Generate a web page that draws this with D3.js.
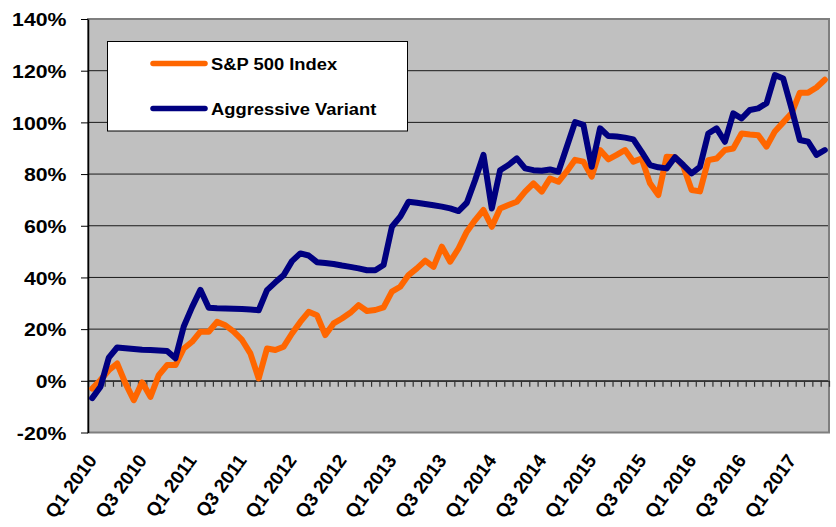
<!DOCTYPE html>
<html>
<head>
<meta charset="utf-8">
<script src="https://cdn.jsdelivr.net/npm/d3@7"></script>
<style>
  html, body { margin: 0; padding: 0; background: #ffffff; }
  svg { display: block; font-family: "Liberation Sans", Arial, sans-serif; }
</style>
</head>
<body>
<svg id="chart" width="836" height="527"></svg>
<script>
// ---- data (monthly, Jan 2010 .. May 2017), cumulative return in % ----
const months = [
  "Jan 2010","Feb 2010","Mar 2010","Apr 2010","May 2010","Jun 2010","Jul 2010","Aug 2010","Sep 2010","Oct 2010","Nov 2010","Dec 2010",
  "Jan 2011","Feb 2011","Mar 2011","Apr 2011","May 2011","Jun 2011","Jul 2011","Aug 2011","Sep 2011","Oct 2011","Nov 2011","Dec 2011",
  "Jan 2012","Feb 2012","Mar 2012","Apr 2012","May 2012","Jun 2012","Jul 2012","Aug 2012","Sep 2012","Oct 2012","Nov 2012","Dec 2012",
  "Jan 2013","Feb 2013","Mar 2013","Apr 2013","May 2013","Jun 2013","Jul 2013","Aug 2013","Sep 2013","Oct 2013","Nov 2013","Dec 2013",
  "Jan 2014","Feb 2014","Mar 2014","Apr 2014","May 2014","Jun 2014","Jul 2014","Aug 2014","Sep 2014","Oct 2014","Nov 2014","Dec 2014",
  "Jan 2015","Feb 2015","Mar 2015","Apr 2015","May 2015","Jun 2015","Jul 2015","Aug 2015","Sep 2015","Oct 2015","Nov 2015","Dec 2015",
  "Jan 2016","Feb 2016","Mar 2016","Apr 2016","May 2016","Jun 2016","Jul 2016","Aug 2016","Sep 2016","Oct 2016","Nov 2016","Dec 2016",
  "Jan 2017","Feb 2017","Mar 2017","Apr 2017","May 2017"
];

const sp500 = [
  -3.0, 0.3, 4.1, 6.7, -1.0, -7.5, -0.6, -6.2, 2.2, 6.1, 6.1, 12.5,
  15.1, 19.0, 19.0, 22.8, 21.5, 19.0, 15.8, 10.6, 0.9, 12.5, 11.9, 13.2,
  18.3, 22.8, 26.7, 25.4, 17.7, 22.2, 24.1, 26.3, 29.3, 27.0, 27.4, 28.4,
  34.5, 36.4, 40.9, 43.5, 46.5, 44.1, 51.9, 46.1, 51.2, 57.7, 62.2, 66.1,
  59.6, 66.7, 68.0, 69.3, 73.2, 76.4, 73.2, 78.3, 77.0, 81.0, 85.5, 84.8,
  79.0, 89.3, 85.7, 87.4, 89.3, 84.8, 86.0, 76.4, 71.9, 86.7, 86.5, 83.0,
  73.8, 73.3, 85.4, 86.0, 89.3, 89.9, 95.7, 95.3, 95.0, 90.6, 96.5, 100.0,
  103.5, 111.5, 111.5, 113.5, 116.5
];

const aggressive = [
  -6.7, -2.3, 9.0, 12.9, 12.6, 12.3, 12.0, 11.9, 11.7, 11.5, 8.7, 21.0,
  28.5, 35.2, 28.3, 28.1, 28.0, 27.9, 27.8, 27.6, 27.3, 35.1, 38.1, 40.9,
  46.3, 49.3, 48.5, 45.9, 45.6, 45.2, 44.6, 44.1, 43.5, 42.8, 42.8, 44.8,
  59.6, 63.5, 69.3, 68.9, 68.4, 67.9, 67.4, 66.7, 65.7, 68.9, 77.7, 87.4,
  66.7, 81.5, 83.5, 86.1, 82.2, 81.5, 81.3, 81.8, 80.9, 90.5, 100.1, 99.0,
  82.8, 97.7, 94.7, 94.5, 94.1, 93.4, 88.6, 83.5, 82.6, 82.2, 86.5, 83.5,
  80.3, 82.8, 95.7, 97.7, 92.5, 103.5, 101.5, 104.8, 105.4, 107.4, 118.3, 117.0,
  105.4, 93.2, 92.5, 87.4, 89.3
];

const seriesNames = ["S&P 500 Index", "Aggressive Variant"];
const seriesColors = ["#FF6600", "#000080"];

const yTicks = [-20, 0, 20, 40, 60, 80, 100, 120, 140];
const xTickMonths = ["Jan 2010","Jul 2010","Jan 2011","Jul 2011","Jan 2012","Jul 2012","Jan 2013","Jul 2013",
                     "Jan 2014","Jul 2014","Jan 2015","Jul 2015","Jan 2016","Jul 2016","Jan 2017"];
const xTickLabels = ["Q1 2010","Q3 2010","Q1 2011","Q3 2011","Q1 2012","Q3 2012","Q1 2013","Q3 2013",
                     "Q1 2014","Q3 2014","Q1 2015","Q3 2015","Q1 2016","Q3 2016","Q1 2017"];

// ---- layout ----
const plot = { left: 88, right: 829, top: 19, bottom: 432.5 };
const svg = d3.select("#chart");

const x = d3.scalePoint().domain(months).range([plot.left, plot.right]).padding(0.5);
const y = d3.scaleLinear().domain([-20, 140]).range([plot.bottom, plot.top]);
const xb = d3.scaleLinear().domain([0, months.length]).range([plot.left, plot.right]);

// plot background
svg.append("rect")
  .attr("x", plot.left).attr("y", plot.top)
  .attr("width", plot.right - plot.left).attr("height", plot.bottom - plot.top)
  .attr("fill", "#C0C0C0");

// gridlines
svg.append("g")
  .selectAll("line")
  .data(yTicks.filter(d => d > -20 && d < 140))
  .join("line")
  .attr("x1", plot.left).attr("x2", plot.right)
  .attr("y1", d => y(d)).attr("y2", d => y(d))
  .attr("stroke", "#1a1a1a").attr("stroke-width", 1);

// plot border (gray)
svg.append("rect")
  .attr("x", plot.left).attr("y", plot.top)
  .attr("width", plot.right - plot.left).attr("height", plot.bottom - plot.top)
  .attr("fill", "none").attr("stroke", "#7f7f7f").attr("stroke-width", 2);

// x axis at 0% with minor ticks at category boundaries
const xAxisG = svg.append("g")
  .attr("transform", `translate(0,${y(0)})`)
  .call(d3.axisBottom(xb).tickValues(d3.range(months.length + 1)).tickSize(6).tickFormat("").tickSizeOuter(0));
xAxisG.select(".domain").attr("stroke", "#333").attr("stroke-width", 1.3);
xAxisG.selectAll(".tick line").attr("stroke", "#333").attr("stroke-width", 1.2);

// x labels at bottom (rotated)
const xLabelG = svg.append("g")
  .attr("transform", `translate(0,${plot.bottom})`)
  .call(d3.axisBottom(x).tickValues(xTickMonths).tickSize(0)
        .tickFormat(d => xTickLabels[xTickMonths.indexOf(d)]));
xLabelG.select(".domain").remove();
xLabelG.selectAll("text")
  .attr("x", 0).attr("y", 0).attr("dy", 0)
  .attr("text-anchor", "end")
  .attr("transform", "translate(5,28) rotate(-54)")
  .attr("font-size", 19).attr("font-weight", "bold").attr("fill", "#000")
  .attr("font-family", "'Liberation Sans', Arial, sans-serif");

// y axis
const yAxisG = svg.append("g")
  .attr("transform", `translate(${plot.left},0)`)
  .call(d3.axisLeft(y).tickValues(yTicks).tickFormat(d => d + "%").tickSize(7).tickSizeOuter(0));
yAxisG.select(".domain").attr("stroke", "#000").attr("stroke-width", 1.5);
yAxisG.selectAll(".tick line").attr("stroke", "#000").attr("stroke-width", 1);
yAxisG.selectAll("text")
  .attr("x", 0)
  .attr("dy", "0.36em")
  .attr("transform", "translate(-21.5,0) scale(1.12,1)")
  .attr("font-size", 19).attr("font-weight", "bold").attr("fill", "#000")
  .attr("font-family", "'Liberation Sans', Arial, sans-serif");

// lines
const line = d3.line()
  .x((d, i) => x(months[i]))
  .y(d => y(d));

const allSeries = [sp500, aggressive];
svg.append("g")
  .selectAll("path")
  .data(allSeries)
  .join("path")
  .attr("d", d => line(d))
  .attr("fill", "none")
  .attr("stroke", (d, i) => seriesColors[i])
  .attr("stroke-width", 6)
  .attr("stroke-linejoin", "round")
  .attr("stroke-linecap", "round");

// legend
const lg = svg.append("g");
lg.append("rect")
  .attr("x", 107.5).attr("y", 41.5).attr("width", 300).attr("height", 89.5)
  .attr("fill", "#fff").attr("stroke", "#000").attr("stroke-width", 1);
const rowY = [63.5, 108.5];
seriesNames.forEach((name, i) => {
  lg.append("line")
    .attr("x1", 153).attr("x2", 205).attr("y1", rowY[i]).attr("y2", rowY[i])
    .attr("stroke", seriesColors[i]).attr("stroke-width", 5.5).attr("stroke-linecap", "round");
  lg.append("text")
    .attr("transform", `translate(211,${rowY[i] + 6}) scale(1.08,1)`)
    .attr("font-size", 17).attr("font-weight", "bold").attr("fill", "#000")
    .text(name);
});
</script>
</body>
</html>
